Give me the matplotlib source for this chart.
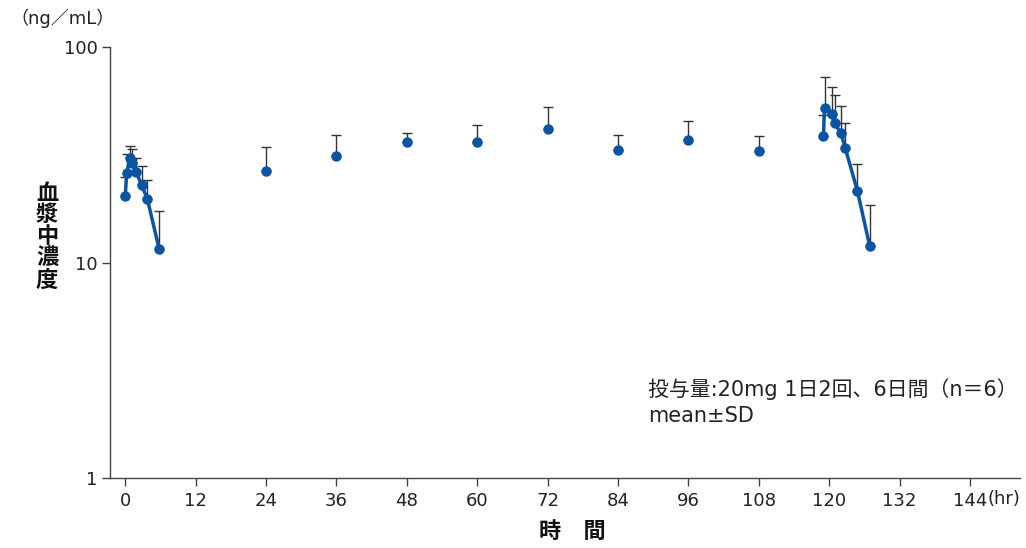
import matplotlib
matplotlib.use("Agg")
import matplotlib.pyplot as plt
import matplotlib.transforms as mtransforms
import numpy as np

# Latin glyphs from DejaVu (wide, like the original), CJK falls back to Noto
plt.rcParams['font.family'] = ['DejaVu Sans', 'Noto Sans CJK JP']

# first dosing day (hr, mean, mean+SD)
t_first = [0, 0.25, 0.8, 1.1, 1.9, 2.8, 3.75, 5.8]
c_first = [20.3, 25.9, 30.7, 29.0, 26.3, 22.8, 19.8, 11.5]
c_first_up = [24.9, 32.0, 34.6, 33.5, 30.6, 28.0, 24.2, 17.3]

# troughs
t_trough = [24, 36, 48, 60, 72, 84, 96, 108]
c_trough = [26.5, 31.1, 36.1, 36.1, 41.5, 33.2, 36.9, 32.8]
c_trough_up = [34.3, 39.0, 39.8, 43.4, 52.6, 39.0, 45.3, 38.5]

# last dosing day
t_last = [119.0, 119.2, 120.5, 120.9, 122.0, 122.7, 124.8, 126.9]
c_last = [38.7, 52.4, 48.8, 44.2, 39.9, 34.1, 21.5, 11.9]
c_last_up = [48.6, 72.3, 65.4, 59.8, 53.3, 44.2, 28.5, 18.4]

x_ticks = [0, 12, 24, 36, 48, 60, 72, 84, 96, 108, 120, 132, 144]
y_ticks = [1, 10, 100]

blue = '#0a54a4'

fig = plt.figure(figsize=(10.26, 5.48), dpi=100)
ax = fig.add_axes([0.1072, 0.1277, 0.8869, 0.7865])

for t, c, up in [(t_first, c_first, c_first_up),
                 (t_trough, c_trough, c_trough_up),
                 (t_last, c_last, c_last_up)]:
    c = np.array(c)
    err = np.array(up) - c
    ax.errorbar(t, c, yerr=[np.zeros_like(err), err], fmt='none',
                ecolor='#333333', elinewidth=1.0, capsize=3.6, capthick=1.0, zorder=2)

ax.plot(t_first, c_first, '-o', color=blue, lw=2.5, ms=6.5, zorder=3)
ax.plot(t_last, c_last, '-o', color=blue, lw=2.5, ms=6.5, zorder=3)
ax.plot(t_trough, c_trough, 'o', color=blue, ms=6.5, zorder=3)

ax.set_yscale('log')
ax.set_ylim(1, 100)
ax.set_xlim(-2.6, 152.5)
ax.set_yticks(y_ticks)
ax.set_yticklabels([str(v) for v in y_ticks])
ax.yaxis.set_minor_locator(matplotlib.ticker.NullLocator())
ax.set_xticks(x_ticks)
ax.set_xticklabels([str(v) for v in x_ticks])

for s in ['top', 'right']:
    ax.spines[s].set_visible(False)
for s in ['left', 'bottom']:
    ax.spines[s].set_color('#444444')
    ax.spines[s].set_linewidth(1.0)
ax.tick_params(axis='both', direction='out', length=6, width=1.0,
               color='#444444', labelsize=13, labelcolor='#222222')
ax.tick_params(axis='x', pad=4)
ax.tick_params(axis='y', pad=3)

# units
fig.text(10 / 1026, 1 - 18 / 548, '（ng／mL）', fontsize=13, va='center', ha='left', color='#222222')
hr_trans = mtransforms.offset_copy(ax.transData, fig=fig, x=17, y=-11.6, units='dots')
ax.text(144, 1, '(hr)', fontsize=13, ha='left', va='top', color='#222222',
        transform=hr_trans, clip_on=False)

# axis titles
fig.text(47 / 1026, 1 - 237 / 548, '血\n漿\n中\n濃\n度', fontsize=16, fontweight='bold',
         ha='center', va='center', linespacing=1.05, color='#111111')
fig.text(572 / 1026, 1 - 532 / 548, '時　間', fontsize=16, fontweight='bold',
         ha='center', va='center', color='#111111')

# note
fig.text(648 / 1026, 1 - 402 / 548, '投与量:20mg 1日2回、6日間（n＝6）\nmean±SD',
         fontsize=15, ha='left', va='center', linespacing=1.4, color='#222222')

fig.savefig('out.png', dpi=100)
